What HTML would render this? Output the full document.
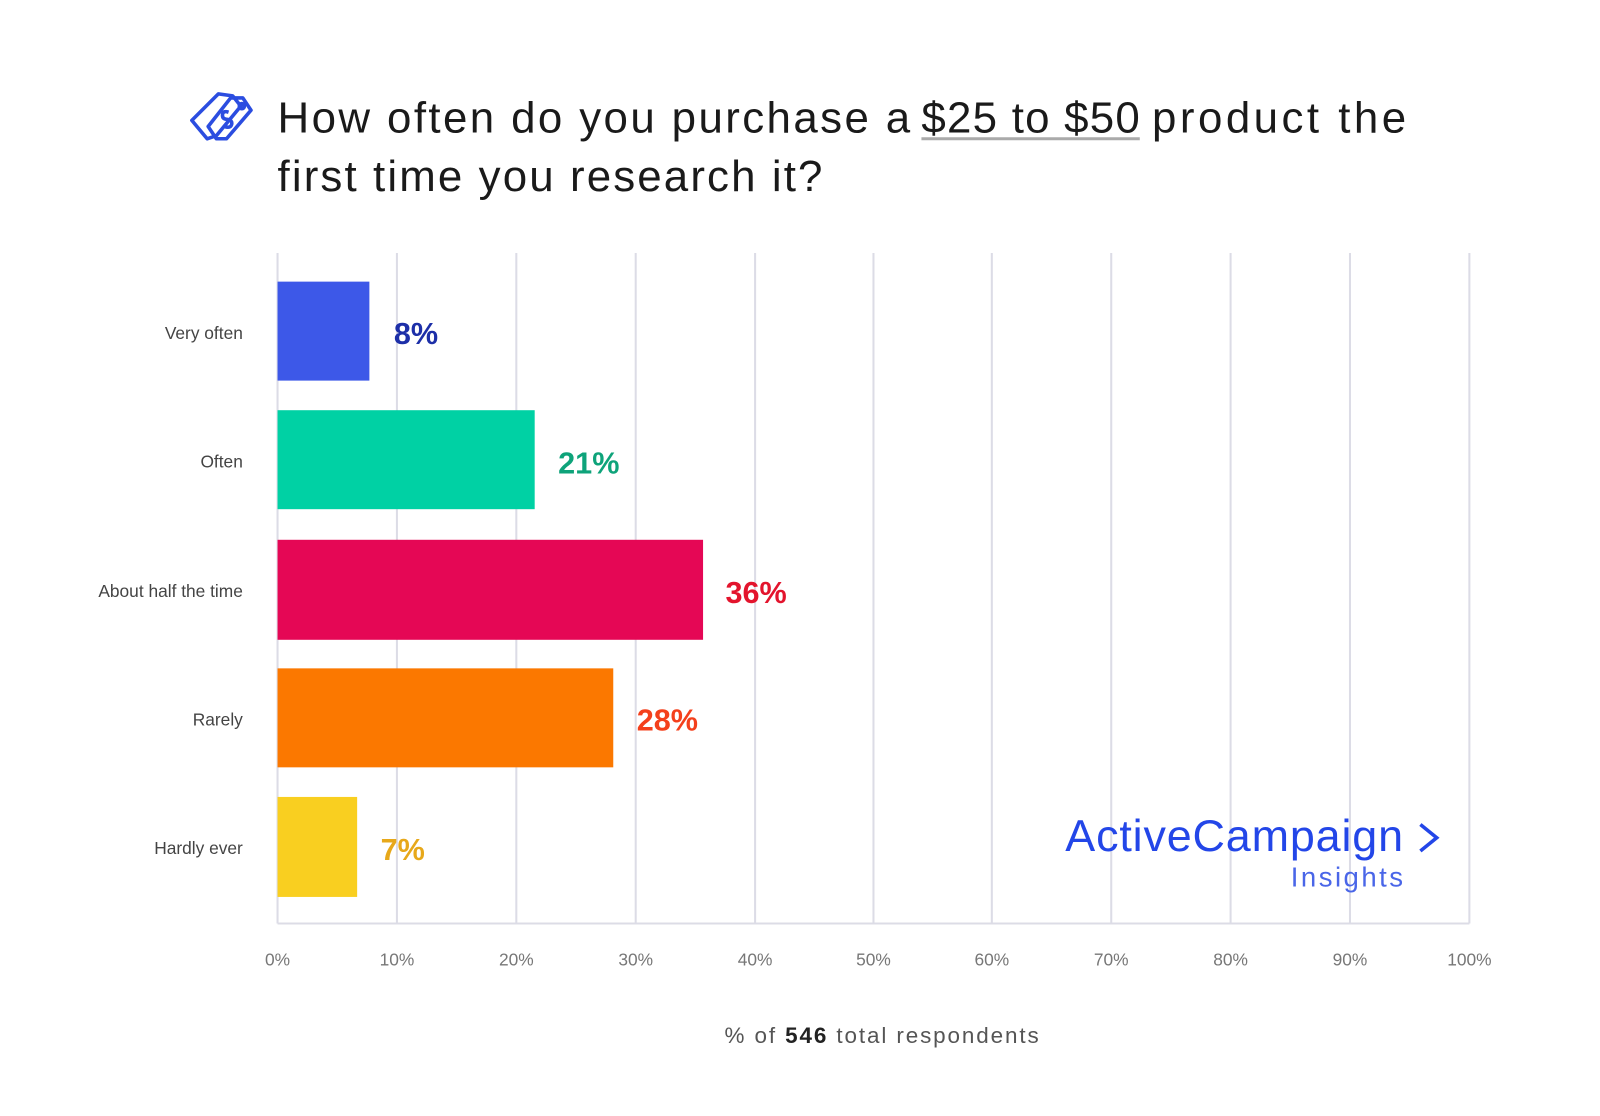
<!DOCTYPE html>
<html><head><meta charset="utf-8"><style>
html,body{margin:0;padding:0;background:#fff;}
svg{display:block;font-family:"Liberation Sans",sans-serif;}
</style></head><body>
<svg width="1600" height="1116" viewBox="0 0 1600 1116" xmlns="http://www.w3.org/2000/svg">
<rect width="1600" height="1116" fill="#fff"/>
<g transform="scale(1.0204)">
<!-- icon -->
<g fill="none" stroke="#2b4de0" stroke-width="3.5" stroke-linejoin="round">
<path d="M188 118 L214 92 L228 94 L236 104 L212 133 L203 136 Z"/>
<path d="M204 124 L226 96 L238 96 L246 108 L222 136 L212 136 Z"/>
<circle cx="237" cy="104" r="2.5"/>
<path d="M224 110 q-6 -2 -6 3 q0 4 5 4 q5 1 4 5 q-1 4 -7 2"/>
</g>
<g font-size="43" fill="#1a1a1a">
<text x="272" y="130" textLength="620" lengthAdjust="spacing">How often do you purchase a</text>
<text x="903" y="130" textLength="214" lengthAdjust="spacing">$25 to $50</text>
<text x="1129" y="130" textLength="249" lengthAdjust="spacing">product the</text>
<text x="272" y="187" textLength="534" lengthAdjust="spacing">first time you research it?</text>
</g>
<line x1="903" y1="136" x2="1117" y2="136" stroke="#aaa" stroke-width="3"/>
<!-- grid -->
<g stroke="#dcdce6" stroke-width="2">
<line x1="389" y1="248" x2="389" y2="905"/><line x1="506" y1="248" x2="506" y2="905"/>
<line x1="623" y1="248" x2="623" y2="905"/><line x1="740" y1="248" x2="740" y2="905"/>
<line x1="856" y1="248" x2="856" y2="905"/><line x1="972" y1="248" x2="972" y2="905"/>
<line x1="1089" y1="248" x2="1089" y2="905"/><line x1="1206" y1="248" x2="1206" y2="905"/>
<line x1="1323" y1="248" x2="1323" y2="905"/><line x1="1440" y1="248" x2="1440" y2="905"/>
<line x1="272" y1="248" x2="272" y2="905"/>
<line x1="272" y1="905" x2="1440" y2="905"/>
</g>
<!-- bars -->
<rect x="272" y="276" width="90" height="97" fill="#3d58e8"/>
<rect x="272" y="402" width="252" height="97" fill="#00d1a4"/>
<rect x="272" y="529" width="417" height="98" fill="#e50755"/>
<rect x="272" y="655" width="329" height="97" fill="#fb7800"/>
<rect x="272" y="781" width="78" height="98" fill="#f9cf20"/>
<g font-size="30" font-weight="bold">
<text x="386" y="337" fill="#1d2fa8">8%</text>
<text x="547" y="464" fill="#0ea37a">21%</text>
<text x="711" y="591" fill="#e3142d">36%</text>
<text x="624" y="716" fill="#f4401c">28%</text>
<text x="373" y="843" fill="#e7a81a">7%</text>
</g>
<g font-size="17" fill="#444" text-anchor="end">
<text x="238" y="332">Very often</text>
<text x="238" y="458">Often</text>
<text x="238" y="585">About half the time</text>
<text x="238" y="711">Rarely</text>
<text x="238" y="837">Hardly ever</text>
</g>
<g font-size="17" fill="#777" text-anchor="middle">
<text x="272" y="946">0%</text><text x="389" y="946">10%</text><text x="506" y="946">20%</text>
<text x="623" y="946">30%</text><text x="740" y="946">40%</text><text x="856" y="946">50%</text>
<text x="972" y="946">60%</text><text x="1089" y="946">70%</text><text x="1206" y="946">80%</text>
<text x="1323" y="946">90%</text><text x="1440" y="946">100%</text>
</g>
<text x="710" y="1022" font-size="22" fill="#555" textLength="308" lengthAdjust="spacing">% of <tspan font-weight="bold" fill="#222">546</tspan> total respondents</text>
<text x="1044" y="834" font-size="44" fill="#2346e8" textLength="331" lengthAdjust="spacing">ActiveCampaign</text>
<path d="M1392 808 L1408 821 L1392 834" fill="none" stroke="#2346e8" stroke-width="3.5"/>
<text x="1265" y="869" font-size="27" fill="#4a66e8" textLength="110" lengthAdjust="spacing">Insights</text>
</g>
</svg>
</body></html>
